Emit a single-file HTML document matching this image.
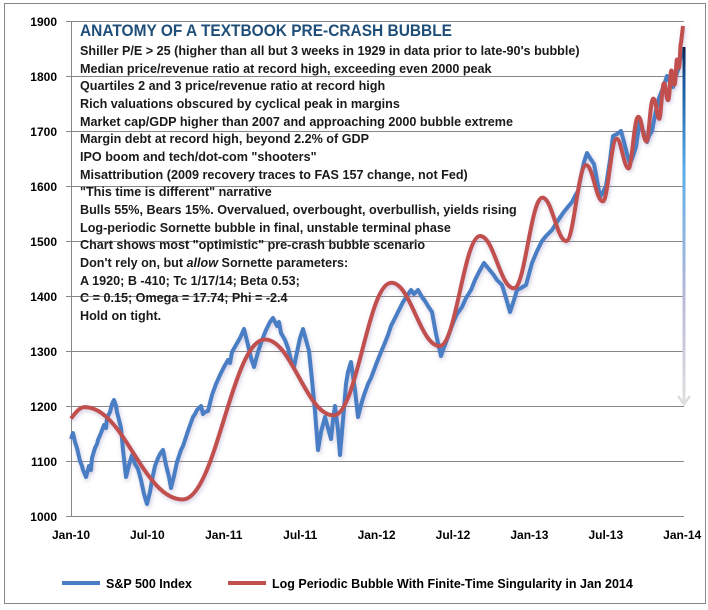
<!DOCTYPE html>
<html><head><meta charset="utf-8"><style>
html,body{margin:0;padding:0;background:#fff}
svg{display:block;font-family:"Liberation Sans",Arial,sans-serif}
</style></head><body>
<svg width="708" height="610" xmlns="http://www.w3.org/2000/svg">
<defs>
<linearGradient id="ag" x1="0" y1="0" x2="0" y2="1">
<stop offset="0" stop-color="#0a1f4a"/><stop offset="0.1" stop-color="#1a5aa0"/>
<stop offset="0.35" stop-color="#5aaee8"/><stop offset="0.7" stop-color="#b8b8d8"/>
<stop offset="1" stop-color="#e0e0e0"/></linearGradient>
<filter id="sh2" x="-5%" y="-5%" width="110%" height="110%"><feGaussianBlur in="SourceAlpha" stdDeviation="2"/><feOffset dx="1" dy="2" result="b"/><feFlood flood-color="#7a6aa8" flood-opacity="0.35"/><feComposite in2="b" operator="in"/><feMerge><feMergeNode/><feMergeNode in="SourceGraphic"/></feMerge></filter>
</defs>
<rect x="4.5" y="3.5" width="701" height="600" fill="#fff" stroke="#888"/>
<g stroke="#888" stroke-width="1">
<line x1="66" y1="21.5" x2="684" y2="21.5"/>
<line x1="66" y1="76.5" x2="684" y2="76.5"/>
<line x1="66" y1="131.5" x2="684" y2="131.5"/>
<line x1="66" y1="186.5" x2="684" y2="186.5"/>
<line x1="66" y1="241.5" x2="684" y2="241.5"/>
<line x1="66" y1="296.5" x2="684" y2="296.5"/>
<line x1="66" y1="351.5" x2="684" y2="351.5"/>
<line x1="66" y1="406.5" x2="684" y2="406.5"/>
<line x1="66" y1="461.5" x2="684" y2="461.5"/>
<line x1="66" y1="516.5" x2="684" y2="516.5"/>
<line x1="71.5" y1="21" x2="71.5" y2="516"/>
</g>
<g font-size="12" font-weight="bold" fill="#000" text-anchor="end">
<text x="57" y="26">1900</text><text x="57" y="81">1800</text><text x="57" y="136">1700</text>
<text x="57" y="191">1600</text><text x="57" y="246">1500</text><text x="57" y="301">1400</text>
<text x="57" y="356">1300</text><text x="57" y="411">1200</text><text x="57" y="466">1100</text>
<text x="57" y="521">1000</text>
</g>
<g font-size="12" font-weight="bold" fill="#000" text-anchor="middle">
<text x="71" y="539">Jan-10</text><text x="147.4" y="539">Jul-10</text><text x="223.8" y="539">Jan-11</text>
<text x="300.2" y="539">Jul-11</text><text x="376.6" y="539">Jan-12</text><text x="453" y="539">Jul-12</text>
<text x="529.4" y="539">Jan-13</text><text x="605.8" y="539">Jul-13</text><text x="682.2" y="539">Jan-14</text>
</g>
<g filter="url(#sh2)" fill="none" stroke-linejoin="round">
<polyline stroke="#4a7ec4" stroke-width="4" points="71,439 73,433 75,442 77,448 80,461 82,466 83,470 86,477 89,466 91,470 92,458 95,448 97,444 98,440 101,433 104,425 106,428 107,418 110,412 112,404 114,400 116,406 117,412 119,420 121,428 123,450 126,477 129,465 132,455 135,464 138,469 141,480 144,494 147,504 150,492 152,480 155,466 158,458 160,454 163,450 166,465 169,477 171,488 174,476 177,462 181,450 183,446 185,440 189,428 193,417 195,414 197,410 201,406 203,414 205,412 208,411 212,395 216,384 220,375 224,367 228,360 230,363 232,352 236,345 240,338 244,329 248,345 251,358 254,367 258,352 262,340 266,330 270,322 273,318 277,326 279,322 281,333 285,340 288,348 291,360 294,367 297,352 300,338 303,329 306,340 309,351 312,380 315,411 318,450 321,432 325,417 328,428 331,439 333,420 335,406 338,430 340,455 343,420 346,384 348,372 351,362 355,390 358,417 361,405 364,395 368,384 371,378 374,370 377,362 381,352 384,345 388,335 391,326 395,318 399,310 403,302 407,296 411,290 414,294 418,290 422,297 425,301 428,306 432,312 436,334 441,356 443,350 445,345 449,334 453,323 457,314 462,307 466,298 471,290 475,280 479,272 484,263 488,268 493,274 497,280 502,285 506,298 510,312 514,300 517,290 521,288 526,285 529,274 532,263 537,251 542,241 546,236 552,230 557,222 563,213 567,208 572,202 575,196 578,191 581,176 584,162 587,153 590,158 594,164 597,180 600,197 603,192 606,186 610,160 613,136 617,134 621,131 624,142 627,154 630,164 633,156 636,147 638,133 640,120 643,131 647,142 649,136 652,131 655,115 659,98 663,88 667,76 670,82 673,87 675,78 678,70 680,60 682,51"/>
<path stroke="#c0504d" stroke-width="4" d="M71,418.6 C76,412 80,407 84.6,407.1 C124,407 143,499.5 182.7,499.5 C216,499.5 232,339.5 264.9,339.5 C292,339.5 306,415.4 333.7,415.4 C357,415.4 368,282.8 391.3,282.8 C411,282.8 420,346 439.7,346 C456,346 464,236 480.1,236 C494,236 500,288.3 514,288.3 C525,288.3 531,197.6 542.4,197.6 C552,197.6 557,241 566.2,241 C574,241 578,165.1 586.1,165.1 C593,165.1 596,201.4 602.8,201.4 C608,201.4 611,138.7 616.8,138.7 C621,138.7 624,168.4 628.5,168.4 C632,168.4 634,116.7 638.3,116.7 C642,116.7 643,141.5 646.5,141.5 C649,141.5 650,98.6 653.4,98.6 C656,98.6 657,118.9 659.2,118.9 C661,118.9 662,83.2 664,83.2 C666,83.2 666,100.2 668,100.2 C670,100.2 670,70.5 671.4,70.5 C673,70.5 673,84.8 674.3,84.8 C676,84.8 676,59.5 677,59.5 C678,59.5 678,67.8 679,67.8 C680,67.8 680,43 681,43 L683,26"/>
</g>
<rect x="682.5" y="47" width="3" height="355" fill="url(#ag)"/>
<polyline points="678,396 684,404 690,396" fill="none" stroke="#ddd" stroke-width="2.5"/>
<g font-weight="bold" fill="#1a1a1a" font-size="12.6">
<text x="80" y="36" font-size="17" fill="#1f4e79" textLength="372" lengthAdjust="spacingAndGlyphs">ANATOMY OF A TEXTBOOK PRE-CRASH BUBBLE</text>
<text x="80" y="55">Shiller P/E &gt; 25 (higher than all but 3 weeks in 1929 in data prior to late-90's bubble)</text>
<text x="80" y="73">Median price/revenue ratio at record high, exceeding even 2000 peak</text>
<text x="80" y="90">Quartiles 2 and 3 price/revenue ratio at record high</text>
<text x="80" y="108">Rich valuations obscured by cyclical peak in margins</text>
<text x="80" y="126">Market cap/GDP higher than 2007 and approaching 2000 bubble extreme</text>
<text x="80" y="143">Margin debt at record high, beyond 2.2% of GDP</text>
<text x="80" y="161">IPO boom and tech/dot-com "shooters"</text>
<text x="80" y="179">Misattribution (2009 recovery traces to FAS 157 change, not Fed)</text>
<text x="80" y="196">"This time is different" narrative</text>
<text x="80" y="214">Bulls 55%, Bears 15%. Overvalued, overbought, overbullish, yields rising</text>
<text x="80" y="232">Log-periodic Sornette bubble in final, unstable terminal phase</text>
<text x="80" y="249">Chart shows most "optimistic" pre-crash bubble scenario</text>
<text x="80" y="267">Don't rely on, but <tspan font-style="italic">allow</tspan> Sornette parameters:</text>
<text x="80" y="285">A 1920; B -410; Tc 1/17/14; Beta 0.53;</text>
<text x="80" y="302">C = 0.15; Omega = 17.74; Phi = -2.4</text>
<text x="80" y="320">Hold on tight.</text>
</g>
<g font-weight="bold" font-size="12.5" fill="#000">
<line x1="62" y1="583" x2="100" y2="583" stroke="#4a7ec4" stroke-width="4"/>
<text x="106" y="588">S&amp;P 500 Index</text>
<line x1="228" y1="583" x2="266" y2="583" stroke="#c0504d" stroke-width="4"/>
<text x="272" y="588">Log Periodic Bubble With Finite-Time Singularity in Jan 2014</text>
</g>
</svg>
</body></html>
